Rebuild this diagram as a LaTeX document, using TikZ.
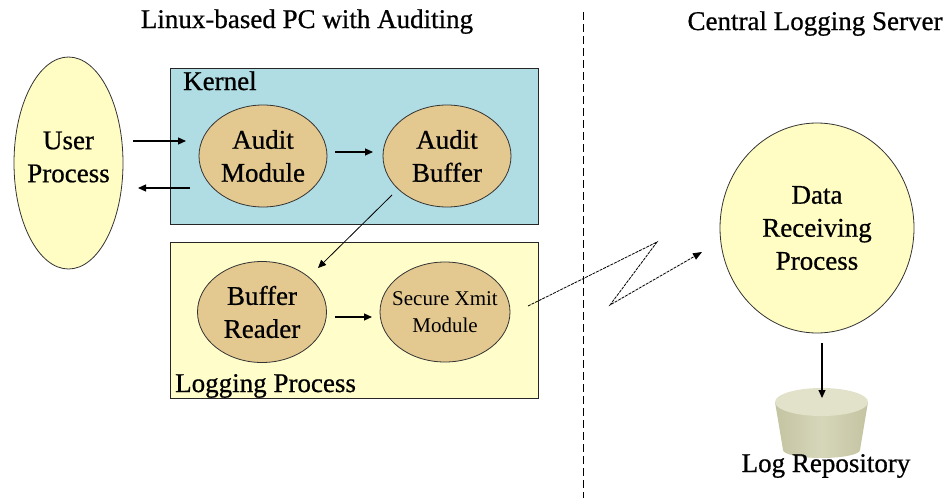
\documentclass[tikz,border=0pt]{standalone}
\usepackage{fontspec}
\setmainfont{Liberation Serif}[FakeBold=0.7]
\newfontfamily\lightserif{Liberation Serif}
\usetikzlibrary{shapes.geometric,arrows.meta}
\definecolor{kernelblue}{HTML}{B0DCE3}
\definecolor{logyellow}{HTML}{FFFDCA}
\definecolor{procyellow}{HTML}{FFFDC4}
\definecolor{tanfill}{HTML}{E3C890}
\definecolor{cuptopc}{HTML}{E2E2CA}
\definecolor{cupdark}{HTML}{C4C4A2}
\definecolor{cuplight}{HTML}{D6D6BA}
\begin{document}
\begin{tikzpicture}[x=1pt,y=-1pt,
  box/.style={draw=black!85,line width=1.4pt,inner sep=0pt,anchor=north west},
  proc/.style={ellipse,draw=black!80,line width=0.8pt,inner sep=0pt},
  lbl/.style={font=\fontsize{27}{33}\selectfont,align=center,inner sep=0pt},
  small/.style={font=\lightserif\fontsize{21}{27}\selectfont,align=center,inner sep=0pt},
  arr/.style={-{Triangle[length=8pt,width=7pt]},line width=1.1pt},
  thinarr/.style={-{Triangle[length=8pt,width=7pt]},line width=0.8pt},
  zig/.style={-{Triangle[length=9pt,width=7pt]},line width=0.8pt,dash pattern=on 3pt off 1pt}]
\useasboundingbox (0,0) rectangle (950,498);
% titles
\node[lbl,anchor=base] (t1) at (307,28) {Linux-based PC with Auditing};
\node[lbl,anchor=base] (t2) at (815,30) {Central Logging Server};
% divider
\draw[line width=1pt,dash pattern=on 8pt off 4pt] (583,12) -- (583,498);
% boxes
\node[box,fill=kernelblue,minimum width=368pt,minimum height=156pt] (kernel) at (170,68) {};
\node[box,fill=logyellow,minimum width=368pt,minimum height=156pt] (logbox) at (170,242) {};
\node[lbl,anchor=base west] (kl) at (183,90) {Kernel};
\node[lbl,anchor=base west] (ll) at (175,392) {Logging Process};
% processes
\node[proc,fill=procyellow,minimum width=109pt,minimum height=212pt,
      label={[lbl,yshift=6pt]center:User\\Process}] (user) at (68.5,163) {};
\node[proc,fill=tanfill,minimum width=128pt,minimum height=102pt,
      label={[lbl]center:Audit\\Module}] (am) at (263,156) {};
\node[proc,fill=tanfill,minimum width=128pt,minimum height=102pt,
      label={[lbl]center:Audit\\Buffer}] (ab) at (447,156) {};
\node[proc,fill=tanfill,minimum width=129pt,minimum height=101pt,
      label={[lbl]center:Buffer\\Reader}] (br) at (262,312) {};
\node[proc,fill=tanfill,minimum width=130pt,minimum height=100pt,
      label={[small]center:Secure Xmit\\Module}] (sx) at (445,312) {};
\node[proc,fill=procyellow,minimum width=194pt,minimum height=210pt,
      label={[lbl]center:Data\\Receiving\\Process}] (dr) at (817,228) {};
% repository cup
\coordinate (cup) at (821.5,402);
\shade[left color=cupdark,right color=cupdark,middle color=cuplight]
  (775,402) -- (783,450) arc[start angle=180,end angle=360,x radius=38.5pt,y radius=8pt] -- (868,402) -- cycle;
\fill[cuptopc] (cup) ellipse[x radius=46.5pt,y radius=14pt];
\node[lbl,anchor=base] (lr) at (826,472) {Log Repository};
% connectors
\draw[arr] ([shift={(64.5,-22)}]user.center) -- ([shift={(-77,-15)}]am.center);
\draw[arr] ([shift={(-73,32)}]am.center) -- ([shift={(69.5,25)}]user.center);
\draw[arr] ([shift={(72,-4)}]am.center) -- ([shift={(-74,-4)}]ab.center);
\draw[thinarr] ([shift={(-55,39)}]ab.center) -- ([shift={(56,-44)}]br.center);
\draw[arr] ([shift={(73,5)}]br.center) -- ([shift={(-73,5)}]sx.center);
\coordinate (z1) at (657,242);
\coordinate (z2) at (610,305);
\draw[zig] ([shift={(83,-6)}]sx.center) -- (z1) -- (z2) -- ([shift={(-115,24)}]dr.center);
\draw[arr] ([shift={(5,10)}]dr.south) -- ([shift={(0.5,-4)}]cup);
\end{tikzpicture}
\end{document}
